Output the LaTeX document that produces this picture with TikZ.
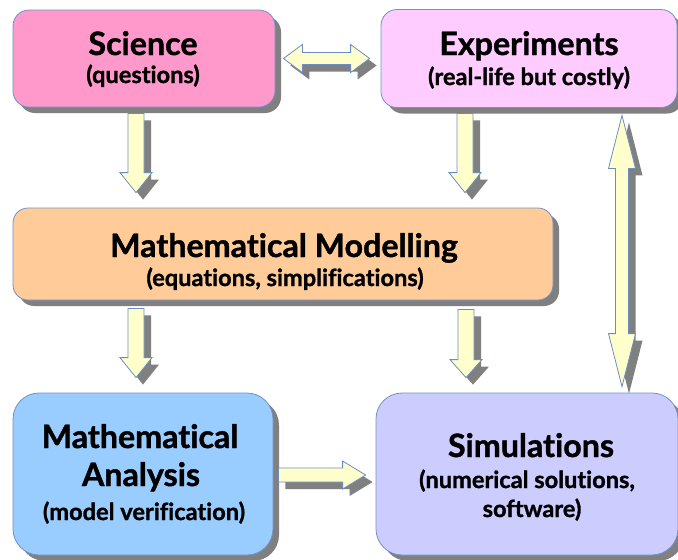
\documentclass[tikz,border=0pt]{standalone}
\usepackage{fontspec}
\setmainfont{Lato}[BoldFeatures={FakeBold=1.2}, Ligatures=NoCommon]
\usetikzlibrary{calc,shadows}
\definecolor{scicol}{HTML}{FF99CC}
\definecolor{expcol}{HTML}{FFCCFF}
\definecolor{modcol}{HTML}{FFCC99}
\definecolor{anacol}{HTML}{99CCFF}
\definecolor{simcol}{HTML}{CCCCFF}
\definecolor{boxline}{HTML}{7391C6}
\definecolor{arrfill}{HTML}{FFFFCC}
\definecolor{arrline}{HTML}{6A8EC4}
\definecolor{shadowgray}{HTML}{808080}
\tikzset{
  box/.style={rectangle, draw=boxline, line width=0.8pt, inner sep=0pt,
    drop shadow={shadow xshift=6pt, shadow yshift=-6pt, fill=shadowgray, opacity=1}},
  ttl/.style={anchor=base, inner sep=0pt, font=\bfseries\fontsize{32.2}{34}\selectfont},
  sub/.style={anchor=base, inner sep=0pt, font=\bfseries\fontsize{23.6}{26}\selectfont},
  blockarrow/.style={fill=arrfill, draw=arrline, line width=0.8pt, line join=miter,
    drop shadow={shadow xshift=7pt, shadow yshift=-7pt, fill=shadowgray, opacity=1}}
}
% down arrow: #1 from, #2 tip, #3 shaft half, #4 head half, #5 head length
\newcommand\dnarrow[5]{%
  \path[blockarrow] let \p1=(#1), \p2=(#2) in
    (\x1-#3,\y1) -- (\x1-#3,\y2+#5) -- (\x1-#4,\y2+#5) -- (\x1,\y2) --
    (\x1+#4,\y2+#5) -- (\x1+#3,\y2+#5) -- (\x1+#3,\y1) -- cycle;}
% right arrow
\newcommand\rtarrow[5]{%
  \path[blockarrow] let \p1=(#1), \p2=(#2) in
    (\x1,\y1+#3) -- (\x2-#5,\y1+#3) -- (\x2-#5,\y1+#4) -- (\x2,\y1) --
    (\x2-#5,\y1-#4) -- (\x2-#5,\y1-#3) -- (\x1,\y1-#3) -- cycle;}
% double horizontal arrow
\newcommand\hdarrow[5]{%
  \path[blockarrow] let \p1=(#1), \p2=(#2) in
    (\x1,\y1) -- (\x1+#5,\y1+#4) -- (\x1+#5,\y1+#3) -- (\x2-#5,\y1+#3) --
    (\x2-#5,\y1+#4) -- (\x2,\y1) -- (\x2-#5,\y1-#4) -- (\x2-#5,\y1-#3) --
    (\x1+#5,\y1-#3) -- (\x1+#5,\y1-#4) -- cycle;}
% double vertical arrow (#1 top tip, #2 bottom tip)
\newcommand\vdarrow[5]{%
  \path[blockarrow] let \p1=(#1), \p2=(#2) in
    (\x1,\y1) -- (\x1+#4,\y1-#5) -- (\x1+#3,\y1-#5) -- (\x1+#3,\y2+#5) --
    (\x1+#4,\y2+#5) -- (\x1,\y2) -- (\x1-#4,\y2+#5) -- (\x1-#3,\y2+#5) --
    (\x1-#3,\y1-#5) -- (\x1-#4,\y1-#5) -- cycle;}
\begin{document}
\begin{tikzpicture}[x=1pt, y=-1pt]
\useasboundingbox (0,0) rectangle (678,560);

% boxes
\node[box, fill=scicol, rounded corners=16pt, minimum width=262pt, minimum height=97pt] (sci) at (144,58.5) {};
\node[box, fill=expcol, rounded corners=16pt, minimum width=296pt, minimum height=98pt] (exp) at (529,58.5) {};
\node[box, fill=modcol, rounded corners=15pt, minimum width=540pt, minimum height=92pt] (mod) at (283,254) {};
\node[box, fill=anacol, rounded corners=26pt, minimum width=260pt, minimum height=162pt] (ana) at (143,474) {};
\node[box, fill=simcol, rounded corners=26pt, minimum width=302pt, minimum height=162pt] (sim) at (527,474) {};

% texts
\node[ttl] (sci-t) at (143,55) {Science};
\node[sub] (sci-s) at (143,83) {(questions)};
\node[ttl] (exp-t) at (529,55) {Experiments};
\node[sub] (exp-s) at (529,85) {(real-life but costly)};
\node[ttl] (mod-t) at (284,257) {Mathematical Modelling};
\node[sub] (mod-s) at (285,286) {(equations, simplifications)};
\node[ttl] (ana-t1) at (140,448) {Mathematical};
\node[ttl] (ana-t2) at (141,486) {Analysis};
\node[sub] (ana-s) at (144,520) {(model verification)};
\node[ttl] (sim-t) at (531,457) {Simulations};
\node[sub] (sim-s1) at (527,488) {(numerical solutions,};
\node[sub] (sim-s2) at (532,517) {software)};

% arrow anchor coordinates
\coordinate (a1s) at ($(sci.south)+(-8,6)$);
\coordinate (a1e) at ($(mod.north)+(-147,-15)$);
\coordinate (a2s) at ($(exp.south)+(-64,5.5)$);
\coordinate (a2e) at ($(mod.north)+(182,-15)$);
\coordinate (a3s) at ($(mod.south)+(-147,8)$);
\coordinate (a3e) at ($(ana.north)+(-7,-15)$);
\coordinate (a4s) at ($(mod.south)+(183,9)$);
\coordinate (a4e) at ($(sim.north)+(-61,-15)$);
\coordinate (a5s) at ($(ana.east)+(5,1)$);
\coordinate (a5e) at ($(sim.west)+(-10,1)$);
\coordinate (a6s) at ($(sci.east)+(8,0)$);
\coordinate (a6e) at ($(exp.west)+(-11,0)$);
\coordinate (a7s) at ($(exp.south)+(93,7.5)$);
\coordinate (a7e) at ($(sim.north)+(95,-6)$);

% arrows
\dnarrow{a1s}{a1e}{8pt}{16pt}{20pt}
\dnarrow{a2s}{a2e}{8pt}{16pt}{20pt}
\dnarrow{a3s}{a3e}{8pt}{16pt}{20pt}
\dnarrow{a4s}{a4e}{8pt}{16pt}{18pt}
\rtarrow{a5s}{a5e}{7pt}{14pt}{23pt}
\hdarrow{a6s}{a6e}{6pt}{14pt}{19pt}
\vdarrow{a7s}{a7e}{6.5pt}{13.5pt}{53pt}
\end{tikzpicture}
\end{document}
